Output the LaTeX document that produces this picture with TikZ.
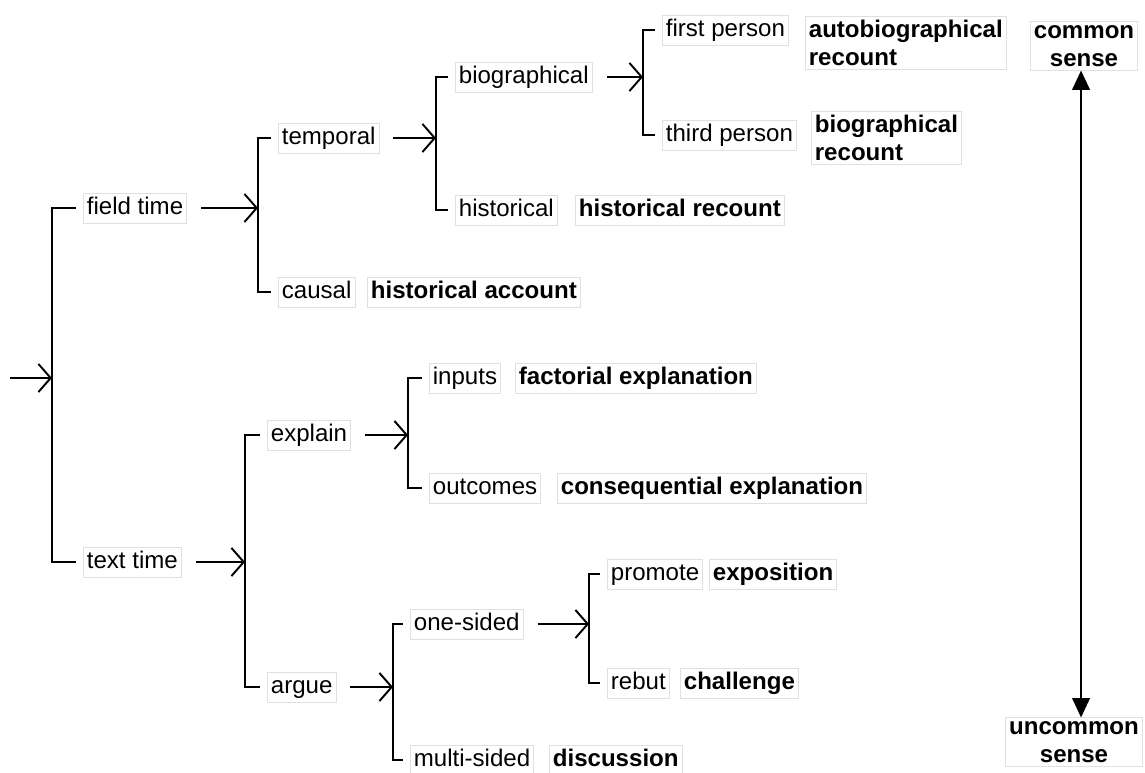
\documentclass[tikz,border=0pt]{standalone}
\usepackage{fontspec}
\setmainfont{Liberation Sans}
\usetikzlibrary{arrows.meta}

\begin{document}
\begin{tikzpicture}[%%
  x=0.02cm,y=-0.02cm,%%
  choiceStyle/.style={-{Straight Barb[length=7pt,width=16pt]},line width=1.1pt,shorten <=8pt},%%
  barStyle/.style={-,line width=1.1pt,shorten <=4pt,shorten >=4pt},%%
  clineStyle/.style={{Triangle[length=11pt,width=10pt]}-{Triangle[length=11pt,width=10pt]},line width=1.1pt},%%
  termStyle/.style={anchor=west,inner sep=2pt,draw=black!12,line width=0.4pt,text height=10pt,text depth=3pt,font=\fontsize{13.7pt}{16pt}\selectfont},%%
  genreStyle/.style={termStyle,font=\fontsize{13.7pt}{16pt}\selectfont\bfseries},%%
  blockStyle/.style={anchor=west,inner sep=2pt,draw=black!12,line width=0.4pt,align=left,font=\fontsize{13.7pt}{16pt}\selectfont\bfseries}%%
]
\useasboundingbox (0,0) rectangle (1145,773);
%%
%% Points where the choices enter their brackets.
\coordinate (entry) at (10,378);
\coordinate (rootBar) at (52,378);
\coordinate (fieldBar) at (258,208);
\coordinate (temporalBar) at (436,138);
\coordinate (biographicalBar) at (643,77);
\coordinate (textBar) at (245,562);
\coordinate (explainBar) at (408,435);
\coordinate (argueBar) at (393,687);
\coordinate (onesidedBar) at (589,624);
%%
%% Field time side.
\node (fieldtime) at (83,208) [termStyle] {field time};
\node (temporal) at (278,138) [termStyle] {temporal};
\node (causal) at (278,292) [termStyle] {causal};
\node (histAccount) at (367,292) [genreStyle] {historical account};
\node (biographical) at (455,77) [termStyle] {biographical};
\node (historical) at (455,210) [termStyle] {historical};
\node (histRecount) at (575,210) [genreStyle] {historical recount};
\node (firstperson) at (662,30) [termStyle] {first person};
\node (thirdperson) at (662,135) [termStyle] {third person};
\node (autoRecount) at (805,43) [blockStyle] {autobiographical\\recount};
\node (bioRecount) at (811,138) [blockStyle] {biographical\\recount};
%%
%% Text time side.
\node (texttime) at (83,562) [termStyle] {text time};
\node (explain) at (267,435) [termStyle] {explain};
\node (argue) at (267,687) [termStyle] {argue};
\node (inputs) at (429,378) [termStyle] {inputs};
\node (outcomes) at (429,488) [termStyle] {outcomes};
\node (factorial) at (515,378) [genreStyle] {factorial explanation};
\node (consequential) at (557,488) [genreStyle] {consequential explanation};
\node (onesided) at (410,624) [termStyle] {one-sided};
\node (multisided) at (410,760) [termStyle] {multi-sided};
\node (discussion) at (549,760) [genreStyle] {discussion};
\node (promote) at (607,574) [termStyle] {promote};
\node (rebut) at (607,683) [termStyle] {rebut};
\node (exposition) at (709,574) [genreStyle] {exposition};
\node (challenge) at (680,683) [genreStyle] {challenge};
%%
%% The cline.
\node (common) at (1084,46) [blockStyle,anchor=center,align=center] {common\\sense};
\node (uncommon) at (1074,742) [blockStyle,anchor=center,align=center] {uncommon\\sense};
%%
%% Entry arrows.
\draw[choiceStyle,shorten <=0pt] (entry) -- (rootBar);
\draw[choiceStyle] (fieldtime.east) -- (fieldBar);
\draw[choiceStyle] (temporal.east) -- (temporalBar);
\draw[choiceStyle] (biographical.east) -- (biographicalBar);
\draw[choiceStyle] (texttime.east) -- (textBar);
\draw[choiceStyle] (explain.east) -- (explainBar);
\draw[choiceStyle] (argue.east) -- (argueBar);
\draw[choiceStyle] (onesided.east) -- (onesidedBar);
%% Brackets.
\draw[barStyle] (fieldtime.west) -| (rootBar) |- (texttime.west);
\draw[barStyle] (temporal.west) -| (fieldBar) |- (causal.west);
\draw[barStyle] (biographical.west) -| (temporalBar) |- (historical.west);
\draw[barStyle] (firstperson.west) -| (biographicalBar) |- (thirdperson.west);
\draw[barStyle] (explain.west) -| (textBar) |- (argue.west);
\draw[barStyle] (inputs.west) -| (explainBar) |- (outcomes.west);
\draw[barStyle] (onesided.west) -| (argueBar) |- (multisided.west);
\draw[barStyle] (promote.west) -| (onesidedBar) |- (rebut.west);
%%
\draw[clineStyle] ([xshift=4]uncommon.north |- common.south) -- ([xshift=4]uncommon.north);
\end{tikzpicture}
\end{document}
